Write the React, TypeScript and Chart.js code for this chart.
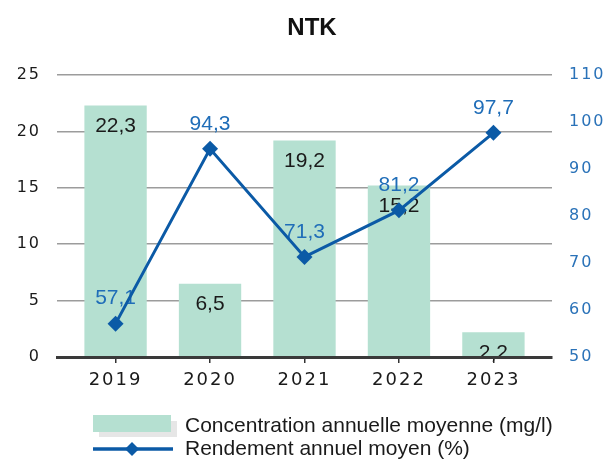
import React, { useEffect, useRef } from 'react';
import { Chart, registerables } from 'chart.js';

Chart.register(...registerables);

const chartTitle = 'NTK';
const categories = ['2019', '2020', '2021', '2022', '2023'];
const concentration = [22.3, 6.5, 19.2, 15.2, 2.2];
const rendement = [57.1, 94.3, 71.3, 81.2, 97.7];
const seriesNames = ['Concentration annuelle moyenne (mg/l)', 'Rendement annuel moyen (%)'];
const leftAxis = { min: 0, max: 25, step: 5 };
const rightAxis = { min: 50, max: 110, step: 10 };

const BAR_COLOR = '#b5e0d1';
const LINE_COLOR = '#0b5aa6';
const LABEL_BLUE = '#1f6db8';
const TICK_BLUE = '#2a72b8';
const TEXT = '#1a1a1a';

const fmt = (v: number) => v.toFixed(1).replace('.', ',');

function drawDiamond(ctx: CanvasRenderingContext2D, x: number, y: number, r: number) {
  ctx.beginPath();
  ctx.moveTo(x, y - r);
  ctx.lineTo(x + r, y);
  ctx.lineTo(x, y + r);
  ctx.lineTo(x - r, y);
  ctx.closePath();
  ctx.fill();
}

const spacingPlugin = {
  id: 'tickSpacing',
  beforeDraw(chart: any) {
    chart.ctx.letterSpacing = '2px';
  },
  beforeDatasetsDraw(chart: any) {
    chart.ctx.letterSpacing = '0px';
  },
};

const labelsPlugin = {
  id: 'valueLabels',
  beforeDatasetDraw(chart: any, args: any) {
    if (args.index !== 1) return;
    const ctx = chart.ctx as CanvasRenderingContext2D;
    ctx.save();
    (ctx as any).letterSpacing = '0px';
    ctx.font = '21px "Liberation Sans", Arial, sans-serif';
    ctx.textAlign = 'center';
    ctx.textBaseline = 'middle';
    const barMeta = chart.getDatasetMeta(0);
    barMeta.data.forEach((el: any, i: number) => {
      ctx.fillStyle = TEXT;
      ctx.fillText(fmt(concentration[i]), el.x, el.y + 21);
    });
    const lineMeta = chart.getDatasetMeta(1);
    lineMeta.data.forEach((el: any, i: number) => {
      ctx.fillStyle = LABEL_BLUE;
      ctx.fillText(fmt(rendement[i]), el.x, el.y - 25);
    });
    ctx.restore();
  },
};

const decorPlugin = {
  id: 'decor',
  afterDraw(chart: any) {
    const ctx = chart.ctx as CanvasRenderingContext2D;
    ctx.save();
    (ctx as any).letterSpacing = '0px';
    // title
    ctx.fillStyle = '#111';
    ctx.font = 'bold 24px "Liberation Sans", Arial, sans-serif';
    ctx.textAlign = 'center';
    ctx.textBaseline = 'middle';
    ctx.fillText(chartTitle, 312, 28);
    // legend: bar item
    ctx.fillStyle = '#e6e6e6';
    ctx.fillRect(99, 421, 78, 16);
    ctx.fillStyle = BAR_COLOR;
    ctx.fillRect(93, 415, 78, 17);
    // legend: line item
    ctx.strokeStyle = LINE_COLOR;
    ctx.lineWidth = 3.5;
    ctx.beginPath();
    ctx.moveTo(93, 449);
    ctx.lineTo(173, 449);
    ctx.stroke();
    ctx.fillStyle = LINE_COLOR;
    drawDiamond(ctx, 132, 449, 7);
    // legend text
    ctx.fillStyle = TEXT;
    ctx.font = '21px "Liberation Sans", Arial, sans-serif';
    ctx.textAlign = 'left';
    ctx.textBaseline = 'alphabetic';
    ctx.fillText(seriesNames[0], 185, 431.5);
    ctx.fillText(seriesNames[1], 185, 455);
    ctx.restore();
  },
};

export default function App() {
  const canvasRef = useRef<HTMLCanvasElement | null>(null);

  useEffect(() => {
    const canvas = canvasRef.current;
    if (!canvas) return;
    const chart = new Chart(canvas, {
      type: 'bar',
      data: {
        datasets: [
          {
            type: 'bar',
            label: seriesNames[0],
            data: concentration.map((v, i) => ({ x: i, y: v })),
            backgroundColor: BAR_COLOR,
            borderWidth: 0,
            barPercentage: 0.66,
            categoryPercentage: 1,
            yAxisID: 'y',
            order: 1,
          } as any,
          {
            type: 'line',
            label: seriesNames[1],
            data: rendement.map((v, i) => ({ x: i, y: v })),
            borderColor: LINE_COLOR,
            backgroundColor: LINE_COLOR,
            borderWidth: 3,
            tension: 0,
            pointStyle: 'rectRot',
            pointRadius: 8,
            pointBorderWidth: 0,
            pointBackgroundColor: LINE_COLOR,
            yAxisID: 'y1',
            order: 0,
          } as any,
        ],
      },
      options: {
        responsive: false,
        animation: false,
        layout: { padding: { top: 75, bottom: 64, left: 0, right: 0 } },
        plugins: {
          legend: { display: false },
          title: { display: false },
          tooltip: { enabled: false },
        },
        scales: {
          x: {
            type: 'linear',
            min: -0.62,
            max: 4.62,
            offset: false,
            afterBuildTicks: (scale: any) => {
              scale.ticks = categories.map((_, i) => ({ value: i }));
            },
            afterFit: (scale: any) => {
              scale.height = 40;
            },
            grid: {
              offset: false,
              drawOnChartArea: false,
              drawTicks: true,
              tickLength: 6,
              color: '#333',
              lineWidth: 1.5,
            },
            border: { display: true, color: '#3a3a3a', width: 3, z: 1 },
            ticks: {
              autoSkip: false,
              maxRotation: 0,
              padding: 7,
              color: TEXT,
              font: { family: '"DejaVu Sans", Verdana, sans-serif', size: 18 },
              callback: (v: any) => categories[Number(v)] ?? '',
            },
          },
          y: {
            position: 'left',
            min: leftAxis.min,
            max: leftAxis.max,
            afterFit: (scale: any) => {
              scale.width = 57;
            },
            ticks: {
              stepSize: leftAxis.step,
              padding: 16,
              color: TEXT,
              font: { family: '"DejaVu Sans", Verdana, sans-serif', size: 16 },
            },
            grid: {
              drawTicks: false,
              color: '#9c9c9c',
              lineWidth: 1.5,
            },
            border: { display: false },
          },
          y1: {
            position: 'right',
            min: rightAxis.min,
            max: rightAxis.max,
            afterFit: (scale: any) => {
              scale.width = 58;
            },
            ticks: {
              stepSize: rightAxis.step,
              padding: 17,
              color: TICK_BLUE,
              font: { family: '"DejaVu Sans", Verdana, sans-serif', size: 16 },
            },
            grid: { display: false, drawTicks: false },
            border: { display: false },
          },
        },
      } as any,
      plugins: [spacingPlugin, labelsPlugin, decorPlugin],
    });
    return () => chart.destroy();
  }, []);

  return (
    <div style={{ position: 'absolute', left: 0, top: 0, width: 610, height: 461, background: '#fff' }}>
      <canvas ref={canvasRef} width={610} height={461} style={{ display: 'block', width: 610, height: 461 }} />
    </div>
  );
}
